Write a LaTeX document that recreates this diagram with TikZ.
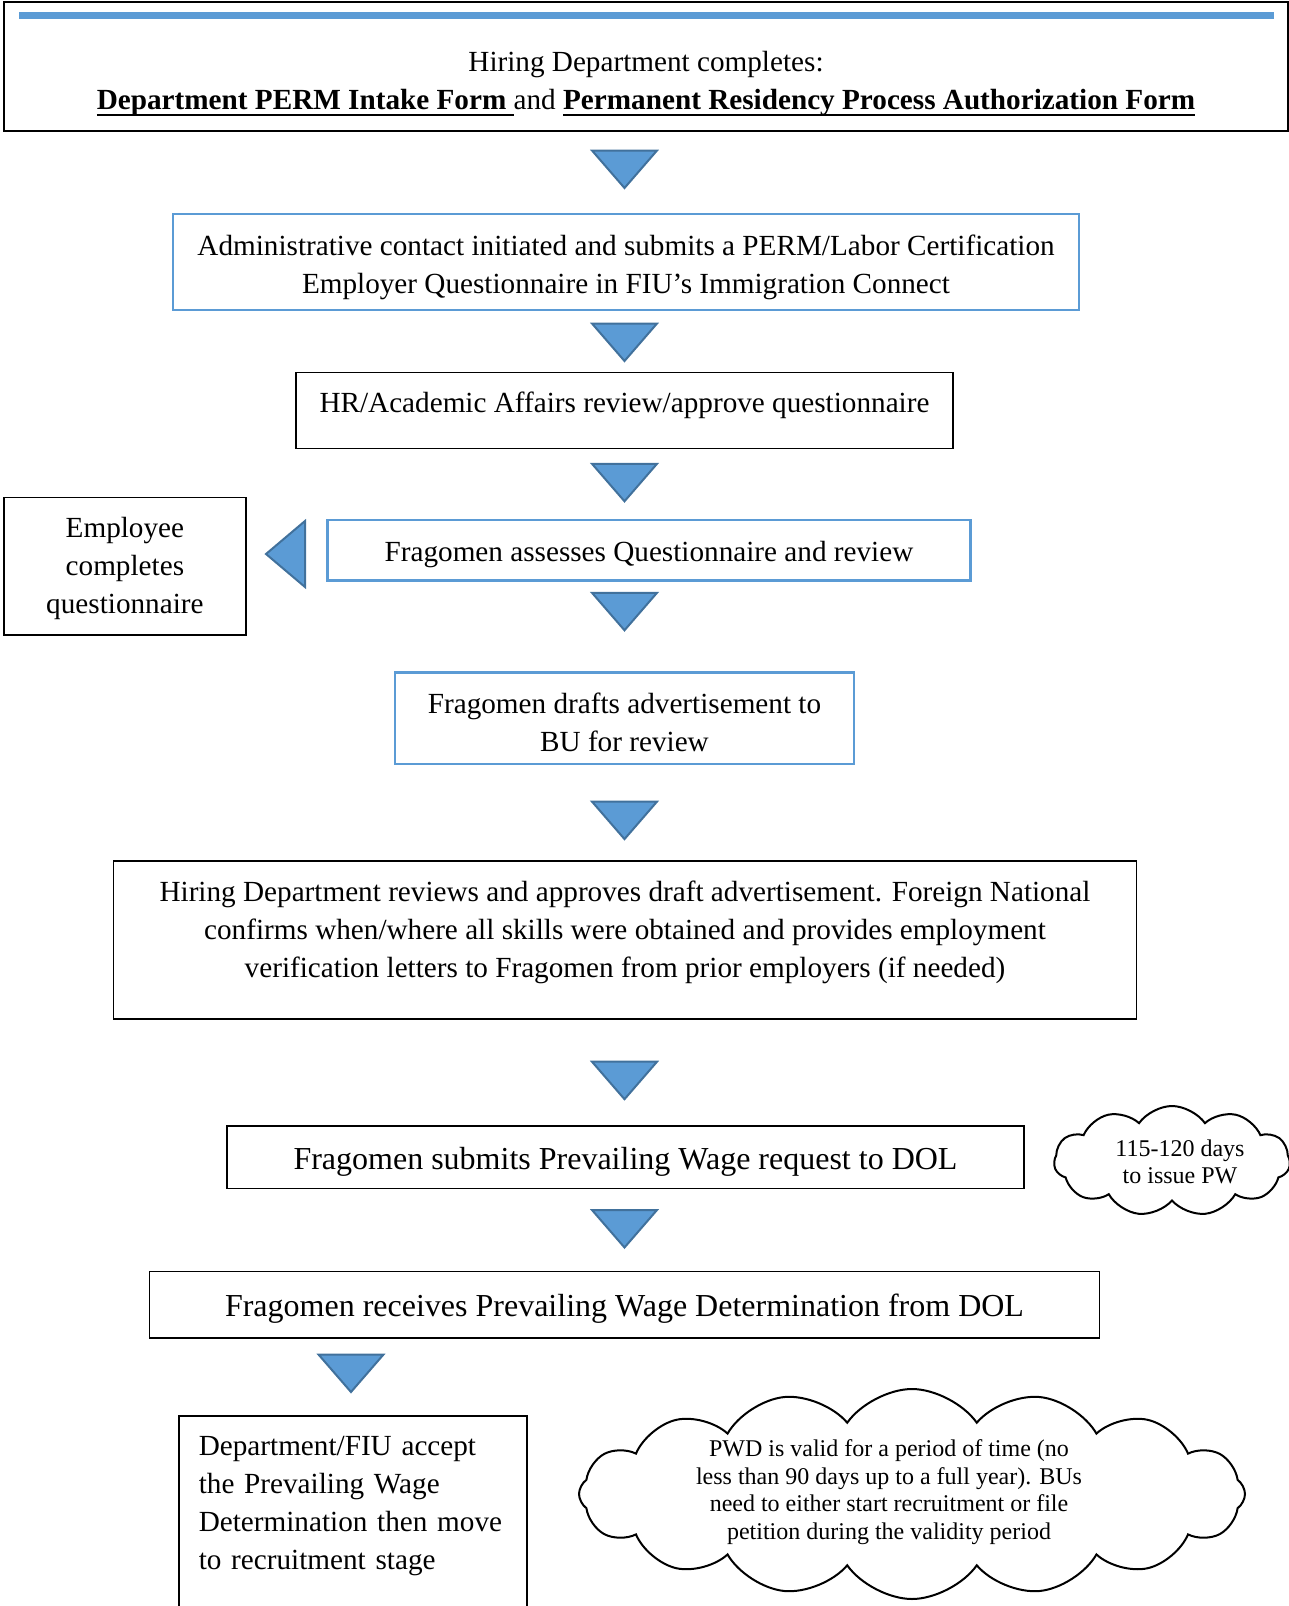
\documentclass[tikz,border=0pt]{standalone}
\usepackage{fontspec}
\setmainfont{Liberation Serif}
\usetikzlibrary{calc}
\usetikzlibrary{shapes.symbols}
\definecolor{wordblue}{HTML}{5B9BD5}
\definecolor{triedge}{HTML}{41719C}
\newcommand\ulbox[1]{\setbox0\hbox{#1}\rlap{\rule[-3.2pt]{\wd0}{1.2pt}}\box0}

\begin{document}
\begin{tikzpicture}[x=0.5pt,y=-0.5pt,
    box/.style={draw,line width=0.8pt,align=center,inner sep=0pt,execute at begin node={\rule{0pt}{0.96em}}},
    bluebox/.style={box,draw=wordblue,line width=1.2pt},
    tri/.style={fill=wordblue,draw=triedge,line width=1pt,line join=miter},
    txt/.style={font=\fontsize{14.6}{19}\selectfont},
    big/.style={font=\fontsize{16}{19}\selectfont},
    small/.style={font=\fontsize{12}{13.8}\selectfont}]
            \clip (0,0) rectangle (1289,1606);
            % top box with blue bar
            \node[box,line width=1.4pt,minimum width=642pt,minimum height=64.5pt] (A) at (646,66.5) {};
            \fill[wordblue] ($(A.north west)+(16,11)$) rectangle ($(A.north east)+(-15,18)$);
            \node[txt,align=center,inner sep=0pt] (A1) at (646,84) {Hiring Department completes:\\
                \textbf{\ulbox{Department PERM Intake Form }}and \textbf{\ulbox{Permanent Residency Process Authorization Form}}};
            \node[bluebox,txt,minimum width=453pt,minimum height=48pt] (B) at (626,262) {\rule{0pt}{16pt}Administrative contact initiated and submits a PERM/Labor Certification\\Employer Questionnaire in FIU's Immigration Connect};
            \node[box,txt,minimum width=328.5pt,minimum height=37.85pt] (C) at (624.5,410.5) {HR/Academic Affairs review/approve questionnaire\rule[-12.5pt]{0pt}{0pt}};
            \node[bluebox,txt,minimum width=321.5pt,minimum height=30.25pt] (D) at (649,550.2) {Fragomen assesses Questionnaire and review};
            \node[box,txt,minimum width=120.85pt,minimum height=68.6pt] (E) at (124.9,566.2) {\rule{0pt}{12.5pt}Employee\\completes\\questionnaire};
            \node[bluebox,txt,minimum width=229.5pt,minimum height=45.6pt] (F) at (624.5,718.2) {\rule{0pt}{14pt}Fragomen drafts advertisement to\\BU for review};
            \node[box,txt,minimum width=511.4pt,minimum height=78.85pt] (G) at (625,940) {\rule{0pt}{13pt}Hiring Department reviews and approves draft advertisement. Foreign National\\confirms when/where all skills were obtained and provides employment\\verification letters to Fragomen from prior employers (if needed)\rule[-13.4pt]{0pt}{0pt}};
            \node[box,big,minimum width=398.5pt,minimum height=31.3pt] (H) at (625.5,1157.3) {Fragomen submits Prevailing Wage request to DOL};
            \node[box,big,minimum width=475pt,minimum height=33.2pt] (I) at (624.5,1304.8) {Fragomen receives Prevailing Wage Determination from DOL};
            \node[box,txt,anchor=north west,align=left,text width=154pt,inner xsep=10pt,inner ysep=6pt] (L) at (178,1415) {Department/FIU accept\\the Prevailing Wage\\Determination then move\\to recruitment stage\rule[-40pt]{0pt}{0pt}};
            % clouds
            \node[draw,cloud,cloud puffs=11,cloud puff arc=110,aspect=2.1,line width=1pt,inner sep=0pt,minimum width=118pt,minimum height=55pt] (P) at (1172,1161) {};
            \node[small,align=center,inner sep=0pt] (P1) at (1180,1162) {115-120 days\\to issue PW};
            \node[draw,cloud,cloud ignores aspect,cloud puffs=16,cloud puff arc=110,line width=1pt,inner sep=0pt,minimum width=333pt,minimum height=105pt] (Q) at (912,1494) {};
            \node[small,align=center,inner sep=0pt] (Q1) at (889,1492) {PWD is valid for a period of time (no\\less than 90 days up to a full year). BUs\\need to either start recruitment or file\\petition during the validity period};
            % triangles
            \draw[tri] (592,150.5) -- (657,150.5) -- (624.5,188) -- cycle;
            \draw[tri] (592,323.5) -- (657,323.5) -- (624.5,361) -- cycle;
            \draw[tri] (592,463.8) -- (657,463.8) -- (624.5,501.3) -- cycle;
            \draw[tri] (592,592.8) -- (657,592.8) -- (624.5,630.3) -- cycle;
            \draw[tri] (592,801.6) -- (657,801.6) -- (624.5,839.1) -- cycle;
            \draw[tri] (592,1061.7) -- (657,1061.7) -- (624.5,1099.2) -- cycle;
            \draw[tri] (592,1210) -- (657,1210) -- (624.5,1247.5) -- cycle;
            \draw[tri] (318.5,1354.5) -- (383.5,1354.5) -- (351,1392) -- cycle;
            \draw[tri] (305,521) -- (305,587) -- (266,554) -- cycle;
        \end{tikzpicture}
\end{document}
